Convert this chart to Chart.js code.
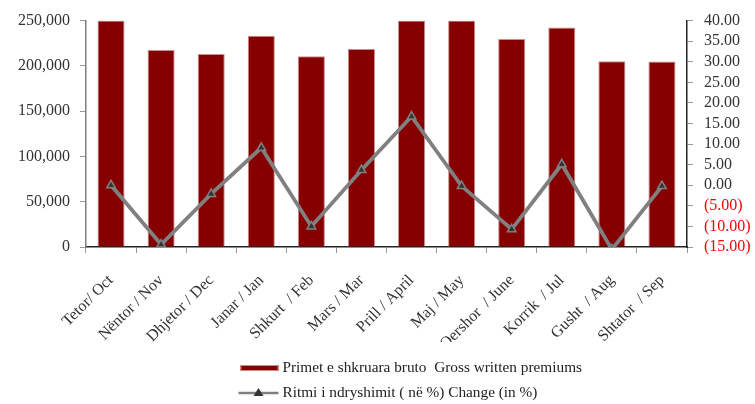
<!DOCTYPE html>
<html><head><meta charset="utf-8">
<script src="https://cdn.jsdelivr.net/npm/chart.js@4/dist/chart.umd.min.js"></script>
<style>html,body{margin:0;padding:0;background:#fff}#wrap{width:755px;height:404px}</style>
</head><body><div id="wrap"><canvas id="c" width="755" height="404"></canvas></div>
<script>
const categories = ['Tetor/ Oct','Nëntor / Nov','Dhjetor / Dec','Janar / Jan','Shkurt  / Feb','Mars / Mar','Prill / April','Maj / May','Qershor  / June','Korrik  / Jul','Gusht  / Aug','Shtator  / Sep'];
const premiums = [250000, 217600, 213200, 233300, 210700, 218700, 250000, 250000, 229600, 242400, 205200, 204900];
const changePct = [0.0, -14.4, -2.1, 9.1, -10.0, 3.7, 16.7, -0.2, -10.7, 5.1, -15.6, -0.2];
const leftTickValues = [0, 50000, 100000, 150000, 200000, 250000];
const rightTickValues = [-15, -10, -5, 0, 5, 10, 15, 20, 25, 30, 35, 40];
const seriesNames = ['Primet e shkruara bruto  Gross written premiums', 'Ritmi i ndryshimit ( në %) Change (in %)'];

const FONT = '"Liberation Serif", "Times New Roman", serif';
const BAR_COLOR = '#870000';
const LINE_COLOR = '#808080';

const legendPlugin = {
  id: 'stackedLegend',
  afterDraw(chart) {
    const ctx = chart.ctx;
    const cx = chart.width / 2;
    const x0 = cx - 139;
    const rows = [chart.height - 36, chart.height - 11];
    ctx.save();
    ctx.font = '15.3px ' + FONT;
    ctx.textBaseline = 'middle';
    // bar row
    ctx.fillStyle = BAR_COLOR;
    ctx.fillRect(x0 + 2, rows[0] - 3, 38, 6);
    ctx.strokeStyle = '#c98b8b';
    ctx.lineWidth = 1;
    ctx.strokeRect(x0 + 2.5, rows[0] - 2.5, 37, 5);
    ctx.fillStyle = '#222';
    ctx.fillText(seriesNames[0], x0 + 44, rows[0]);
    // line row
    ctx.strokeStyle = LINE_COLOR;
    ctx.lineWidth = 2.5;
    ctx.beginPath();
    ctx.moveTo(x0, rows[1]);
    ctx.lineTo(x0 + 40, rows[1]);
    ctx.stroke();
    ctx.fillStyle = '#333';
    ctx.beginPath();
    ctx.moveTo(x0 + 20, rows[1] - 5);
    ctx.lineTo(x0 + 25, rows[1] + 3);
    ctx.lineTo(x0 + 15, rows[1] + 3);
    ctx.closePath();
    ctx.fill();
    ctx.fillStyle = '#222';
    ctx.fillText(seriesNames[1], x0 + 44, rows[1]);
    ctx.restore();
  }
};

new Chart(document.getElementById('c'), {
  data: {
    labels: categories,
    datasets: [
      {
        type: 'line',
        label: seriesNames[1],
        data: changePct,
        yAxisID: 'y1',
        borderColor: LINE_COLOR,
        borderWidth: 3.8,
        pointStyle: 'triangle',
        pointRadius: 5,
        pointBackgroundColor: '#333',
        pointBorderColor: LINE_COLOR,
        pointBorderWidth: 1.5,
        tension: 0,
        order: 0
      },
      {
        type: 'bar',
        label: seriesNames[0],
        data: premiums,
        yAxisID: 'y',
        backgroundColor: BAR_COLOR,
        borderColor: '#c98b8b',
        borderWidth: 1,
        barPercentage: 0.54,
        categoryPercentage: 1.0,
        order: 1
      }
    ]
  },
  plugins: [legendPlugin],
  options: {
    responsive: false,
    animation: false,
    layout: { padding: { top: 14, bottom: 62, left: 0, right: 0 } },
    plugins: { legend: { display: false }, tooltip: { enabled: false } },
    scales: {
      x: {
        afterFit(scale) { scale.height = 95; },
        grid: { drawOnChartArea: false, drawTicks: true, tickLength: 6, color: '#999', offset: true },
        border: { color: '#222', width: 1.5 },
        ticks: { autoSkip: false, maxRotation: 45, minRotation: 45, color: '#333', padding: 18, font: { family: FONT, size: 16 } }
      },
      y: {
        position: 'left',
        min: 0, max: 250000,
        afterBuildTicks(scale) { scale.ticks = leftTickValues.map(v => ({ value: v })); },
        afterFit(scale) { scale.width = 86; },
        grid: { drawOnChartArea: false, drawTicks: true, tickLength: 6, color: '#999' },
        border: { color: '#808080', width: 1.5 },
        ticks: {
          autoSkip: false,
          color: '#333', padding: 10, font: { family: FONT, size: 16 },
          callback: v => v.toLocaleString('en-US')
        }
      },
      y1: {
        position: 'right',
        min: -15, max: 40,
        afterBuildTicks(scale) { scale.ticks = rightTickValues.map(v => ({ value: v })); },
        afterFit(scale) { scale.width = 68; },
        grid: { drawOnChartArea: false, drawTicks: true, tickLength: 6, color: '#999' },
        border: { color: '#222', width: 1.5 },
        ticks: {
          autoSkip: false,
          padding: 11, font: { family: FONT, size: 16 },
          color: ctx => (ctx.tick && ctx.tick.value < 0) ? '#ff0000' : '#333',
          callback: v => v < 0 ? '(' + Math.abs(v).toFixed(2) + ')' : v.toFixed(2)
        }
      }
    }
  }
});
</script>
</body></html>
